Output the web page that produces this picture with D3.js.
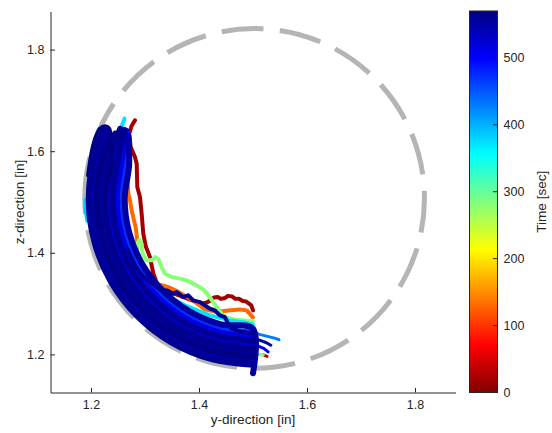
<!DOCTYPE html>
<html>
<head>
<meta charset="utf-8">
<script src="https://cdn.jsdelivr.net/npm/d3@7"></script>
<style>
  html, body { margin: 0; padding: 0; background: #fff; }
  svg { display: block; font-family: "Liberation Sans", Arial, Helvetica, sans-serif; }
</style>
</head>
<body>
<svg id="chart" width="552" height="433"></svg>
<script>
// ---- axes ----
const axisDomain = [1.125, 1.875];
const yDirTicks = [1.2, 1.4, 1.6, 1.8];
const zDirTicks = [1.2, 1.4, 1.6, 1.8];
const timeTicks = [0, 100, 200, 300, 400, 500];
const timeMax = 570;

// reference boundary circle (centre in y/z inches, radius in y-direction inches)
const boundaryCenter = [1.503, 1.507];
const boundaryRadius = 0.3145;

// ---- traced excursions [y, z] ----
const traceRed = [
  [1.2814,1.6608],[1.2749,1.6490],[1.2709,1.6346],[1.2735,1.6082],[1.2814,1.5885],
  [1.2846,1.5755],[1.2857,1.5294],[1.2907,1.5097],[1.2938,1.4771],[1.2968,1.4377],
  [1.3018,1.4113],[1.3092,1.3916],[1.3153,1.3595],[1.3221,1.3398],[1.3369,1.3260],
  [1.3628,1.3162],[1.3957,1.3030],[1.4109,1.3004],[1.4218,1.3063],[1.4276,1.3122],
  [1.4348,1.3128],[1.4405,1.3093],[1.4479,1.3109],[1.4535,1.3152],[1.4609,1.3142],
  [1.4673,1.3093],[1.4738,1.3097],[1.4812,1.3053],[1.4868,1.3044],[1.4968,1.2965],
  [1.5001,1.2866]
];
const traceOrange = [
  [1.2666,1.5623],[1.2690,1.5164],[1.2722,1.5033],[1.2753,1.4836],[1.2796,1.4639],
  [1.2827,1.4507],[1.2857,1.4245],[1.2840,1.4000],[1.2900,1.3750],[1.3040,1.3520],
  [1.3240,1.3380],[1.3420,1.3330],[1.3620,1.3230],[1.3887,1.3063],[1.4109,1.2886],
  [1.4331,1.2833],[1.4535,1.2866],[1.4757,1.2886],[1.4886,1.2866],[1.4997,1.2728]
];
const traceGreen = [
  [1.2833,1.4028],[1.2860,1.4186],[1.2897,1.4255],[1.2934,1.4186],[1.2944,1.4048],
  [1.2968,1.3949],[1.3031,1.3851],[1.3123,1.3851],[1.3184,1.3916],[1.3245,1.3884],
  [1.3308,1.3719],[1.3369,1.3589],[1.3493,1.3522],[1.3647,1.3491],[1.3771,1.3457],
  [1.3956,1.3359],[1.4078,1.3280],[1.4202,1.3122],[1.4326,1.2931],[1.4418,1.2801],
  [1.4498,1.2728],[1.4664,1.2689],[1.4849,1.2669],[1.4997,1.2650]
];
const traceCyan = [
  [1.2620,1.6641],[1.2555,1.6451],[1.2518,1.6116],[1.2500,1.5623],[1.2500,1.5033],
  [1.2555,1.4442],[1.2685,1.3950],[1.2907,1.3556],[1.3277,1.3221],[1.3739,1.2965],
  [1.4202,1.2768],[1.4572,1.2669],[1.4849,1.2630],[1.4997,1.2590]
];
const traceNavyWave = [
  [1.2685,1.4048],[1.2814,1.3753],[1.2962,1.3536],[1.3129,1.3398],[1.3277,1.3280],
  [1.3401,1.3260],[1.3523,1.3195],[1.3586,1.3227],[1.3708,1.3128],[1.3800,1.3162],
  [1.3893,1.3063],[1.4017,1.3030],[1.4109,1.2965],[1.4202,1.2900],[1.4294,1.2866],
  [1.4387,1.2768],[1.4479,1.2734],[1.4540,1.2604],[1.4603,1.2506],[1.4757,1.2453],
  [1.4997,1.2413]
];
const traceNavyLoop = [
  [1.1945,1.5525],[1.2019,1.6017],[1.2093,1.6293],[1.2166,1.6444],[1.2261,1.6490],
  [1.2333,1.6450],[1.2361,1.6352],[1.2352,1.6076],[1.2389,1.5722],[1.2300,1.5300],
  [1.2250,1.4800]
];
const traces = [traceRed, traceOrange, traceGreen, traceCyan, traceNavyWave, traceNavyLoop];
const traceTimes = [20, 130, 280, 370, 560, 568];

// ---- repeated swings along the arc, top turn-around to the y = 1.5 stop ----
const swingA = [[1.2246,1.6445],[1.2063,1.5910],[1.1958,1.5064],[1.2063,1.4218],[1.2369,1.3430],[1.2857,1.2753],[1.3493,1.2233],[1.4234,1.1907],[1.5000,1.1795]];
const swingB = [[1.2313,1.6412],[1.2134,1.5890],[1.2032,1.5064],[1.2134,1.4238],[1.2433,1.3469],[1.2910,1.2808],[1.3530,1.2301],[1.4253,1.1983],[1.5000,1.1874]];
const swingC = [[1.2380,1.6300],[1.2206,1.5869],[1.2106,1.5064],[1.2206,1.4259],[1.2498,1.3508],[1.2962,1.2864],[1.3567,1.2369],[1.4273,1.2059],[1.5000,1.1953]];
const swingD = [[1.2447,1.6346],[1.2277,1.5849],[1.2180,1.5064],[1.2277,1.4279],[1.2562,1.3548],[1.3014,1.2920],[1.3604,1.2438],[1.4292,1.2135],[1.5000,1.2031]];
const swingE = [[1.2540,1.6440],[1.2348,1.5829],[1.2254,1.5064],[1.2348,1.4300],[1.2626,1.3587],[1.3067,1.2975],[1.3641,1.2506],[1.4311,1.2211],[1.5000,1.2110]];
const swingF = [[1.2581,1.6380],[1.2420,1.5808],[1.2328,1.5064],[1.2420,1.4320],[1.2690,1.3626],[1.3119,1.3031],[1.3678,1.2574],[1.4330,1.2287],[1.5000,1.2189]];
const swingG = [[1.2620,1.6420],[1.2491,1.5788],[1.2402,1.5064],[1.2491,1.4340],[1.2754,1.3666],[1.3171,1.3087],[1.3715,1.2642],[1.4349,1.2363],[1.5000,1.2268]];
const swingH = [[1.2660,1.6400],[1.2563,1.5767],[1.2476,1.5064],[1.2563,1.4361],[1.2818,1.3705],[1.3224,1.3142],[1.3752,1.2711],[1.4368,1.2439],[1.5000,1.2346]];
const swingI = [[1.2680,1.6350],[1.2634,1.5747],[1.2550,1.5064],[1.2634,1.4381],[1.2882,1.3745],[1.3276,1.3198],[1.3789,1.2779],[1.4387,1.2515],[1.5000,1.2425]];
const swingJ = [[1.2690,1.6300],[1.2706,1.5727],[1.2624,1.5064],[1.2706,1.4402],[1.2946,1.3784],[1.3328,1.3254],[1.3826,1.2847],[1.4407,1.2591],[1.5000,1.2504],[1.5000,1.1630]];
const swings = [swingA, swingB, swingC, swingD, swingE, swingF, swingG, swingH, swingI, swingJ];
const swingTimes = [562, 548, 568, 555, 565, 532, 560, 515, 470, 552];

// ---- short fragments at the band edges and past y = 1.5 ----
const fragEdgeAzure = [[1.1893,1.5050],[1.1890,1.4850],[1.1925,1.4620]];
const fragEdgeGreen = [[1.1960,1.4560],[1.2010,1.4430]];
const fragPastLight = [[1.5000,1.2450],[1.5100,1.2400],[1.5250,1.2360],[1.5400,1.2320],[1.5480,1.2290]];
const fragPastBlue = [[1.5000,1.2150],[1.5100,1.2160],[1.5200,1.2120],[1.5280,1.2050]];
const fragPastNavy = [[1.5000,1.2320],[1.5120,1.2280],[1.5250,1.2230],[1.5330,1.2180]];
const fragPastRed = [[1.5190,1.1990],[1.5260,1.1960]];
const fragPastGreen = [[1.5120,1.2000],[1.5190,1.1990]];
const fragPastLime = [[1.5020,1.2520],[1.5060,1.2420]];
const fragments = [fragEdgeAzure, fragEdgeGreen, fragPastLight, fragPastBlue, fragPastNavy, fragPastRed, fragPastGreen, fragPastLime];
const fragmentTimes = [390, 270, 430, 500, 555, 40, 290, 250];

// ---- drawing ----
const plot = { left: 50.5, right: 455.5, top: 11.5, bottom: 392.5 };
const bar = { left: 469.5, right: 497.5, top: 11, bottom: 392.5 };
const ink = "#262626";

const x = d3.scaleLinear().domain(axisDomain).range([plot.left, plot.right]);
const y = d3.scaleLinear().domain(axisDomain).range([plot.bottom, plot.top]);

// reversed jet colour map over time
const jetColors = ["#800000", "#ff0000", "#ffff00", "#00ffff", "#0000ff", "#000084"];
const jetAt = [0, 0.125, 0.375, 0.625, 0.875, 1];
const color = d3.scaleLinear()
  .domain(jetAt.map(f => f * timeMax))
  .range(jetColors)
  .clamp(true);

const svg = d3.select("#chart");
const defs = svg.append("defs");

defs.append("clipPath").attr("id", "plotClip")
  .append("rect")
  .attr("x", plot.left).attr("y", plot.top)
  .attr("width", plot.right - plot.left).attr("height", plot.bottom - plot.top);

// dashed boundary circle, started at its leftmost point and run over the top
const cx = x(boundaryCenter[0]), cy = y(boundaryCenter[1]);
const rPx = x(boundaryCenter[0] + boundaryRadius) - cx;
svg.append("path")
  .attr("d", `M${cx - rPx},${cy} A${rPx},${rPx} 0 0 1 ${cx + rPx},${cy} A${rPx},${rPx} 0 0 1 ${cx - rPx},${cy}`)
  .attr("fill", "none")
  .attr("stroke", "#b5b5b5")
  .attr("stroke-width", 5)
  .attr("stroke-dasharray", "42 16.4");

const straight = d3.line().x(d => x(d[0])).y(d => y(d[1]));
const smooth = d3.line().curve(d3.curveCatmullRom.alpha(0.5)).x(d => x(d[0])).y(d => y(d[1]));

const items = [];
traces.forEach((pts, i) => items.push({ pts, t: traceTimes[i], gen: i === 5 ? smooth : straight, w: 4 }));
swings.forEach((pts, i) => items.push({ pts, t: swingTimes[i], gen: smooth, w: 6 }));
fragments.forEach((pts, i) => items.push({ pts, t: fragmentTimes[i], gen: straight, w: 3 }));
items.sort((a, b) => a.t - b.t);

const gTraj = svg.append("g").attr("clip-path", "url(#plotClip)");
gTraj.selectAll("path")
  .data(items)
  .join("path")
  .attr("d", d => d.gen(d.pts))
  .attr("fill", "none")
  .attr("stroke", d => color(d.t))
  .attr("stroke-width", d => d.w)
  .attr("stroke-linecap", "round")
  .attr("stroke-linejoin", "round");

// axes (left and bottom only, ticks pointing inward)
const xAxis = svg.append("g")
  .attr("transform", `translate(0,${plot.bottom})`)
  .call(d3.axisBottom(x).tickValues(yDirTicks).tickFormat(d3.format(".1f"))
    .tickSizeInner(-4.5).tickSizeOuter(0).tickPadding(8));
const yAxis = svg.append("g")
  .attr("transform", `translate(${plot.left},0)`)
  .call(d3.axisLeft(y).tickValues(zDirTicks).tickFormat(d3.format(".1f"))
    .tickSizeInner(-4.5).tickSizeOuter(0).tickPadding(6));
[xAxis, yAxis].forEach(g => {
  g.select(".domain").attr("stroke", ink).attr("stroke-width", 1);
  g.selectAll(".tick line").attr("stroke", ink);
  g.selectAll(".tick text").attr("fill", ink).style("font-size", "12.5px")
    .style("font-family", "'Liberation Sans', Arial, sans-serif");
});

svg.append("text")
  .attr("x", (plot.left + plot.right) / 2).attr("y", 424)
  .attr("text-anchor", "middle").attr("fill", ink)
  .style("font-size", "13.6px")
  .text("y-direction [in]");
svg.append("text")
  .attr("transform", `translate(19,${(plot.top + plot.bottom) / 2}) rotate(-90)`)
  .attr("text-anchor", "middle").attr("dominant-baseline", "central").attr("fill", ink)
  .style("font-size", "13.6px")
  .text("z-direction [in]");

// colour bar
const tScale = d3.scaleLinear().domain([0, timeMax]).range([bar.bottom, bar.top]);
const grad = defs.append("linearGradient")
  .attr("id", "jetBar").attr("x1", 0).attr("y1", 1).attr("x2", 0).attr("y2", 0);
jetAt.forEach((f, i) => grad.append("stop").attr("offset", f).attr("stop-color", jetColors[i]));

svg.append("rect")
  .attr("x", bar.left).attr("y", bar.top)
  .attr("width", bar.right - bar.left).attr("height", bar.bottom - bar.top)
  .attr("fill", "url(#jetBar)")
  .attr("stroke", ink).attr("stroke-width", 1);

const gBar = svg.append("g");
gBar.selectAll("line")
  .data(timeTicks)
  .join("line")
  .attr("x1", bar.right - 4.5).attr("x2", bar.right)
  .attr("y1", d => tScale(d)).attr("y2", d => tScale(d))
  .attr("stroke", ink);
gBar.selectAll("text")
  .data(timeTicks)
  .join("text")
  .attr("x", bar.right + 6).attr("y", d => tScale(d))
  .attr("dominant-baseline", "central").attr("fill", ink)
  .style("font-size", "12.5px")
  .text(d => d);

svg.append("text")
  .attr("transform", `translate(541.5,${(bar.top + bar.bottom) / 2}) rotate(-90)`)
  .attr("text-anchor", "middle").attr("dominant-baseline", "central").attr("fill", ink)
  .style("font-size", "13.6px")
  .text("Time [sec]");
</script>
</body>
</html>
